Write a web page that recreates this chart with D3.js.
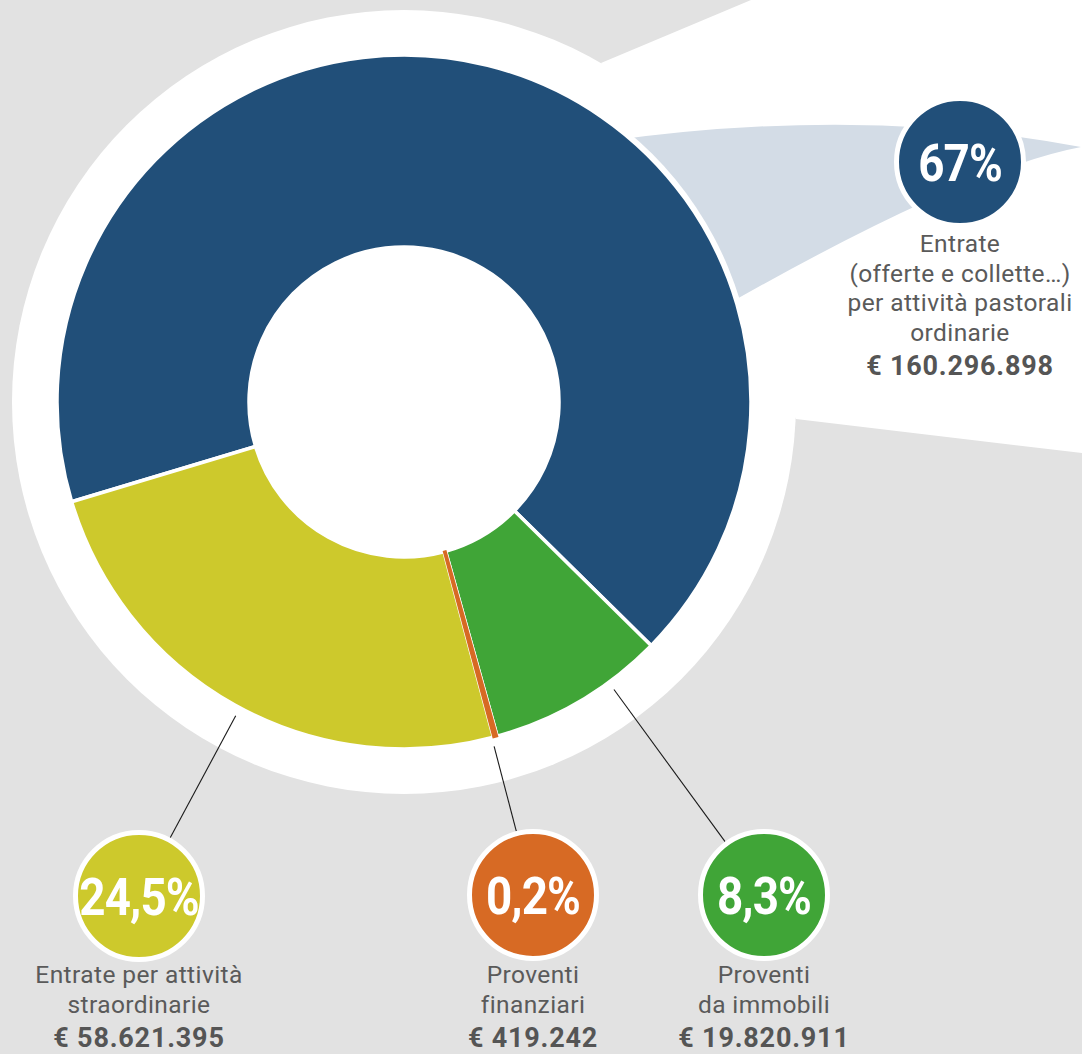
<!DOCTYPE html>
<html>
<head>
<meta charset="utf-8">
<script src="https://cdn.jsdelivr.net/npm/d3@7"></script>
<style>
  html, body { margin: 0; padding: 0; background: #e2e2e2; }
  svg { display: block; }
</style>
</head>
<body>
<div id="chart"></div>
<script>
// dati
const categories = ["ordinarie", "immobili", "finanziari", "straordinarie"];
const values = [160296898, 19820911, 419242, 58621395];
const percentLabels = ["67%", "8,3%", "0,2%", "24,5%"];
const labelLines = [
  ["Entrate", "(offerte e collette…)", "per attività pastorali", "ordinarie"],
  ["Proventi", "da immobili"],
  ["Proventi", "finanziari"],
  ["Entrate per attività", "straordinarie"]
];
const colors = ["#214f79", "#40a537", "#d76a24", "#cdc92c"];

const width = 1082, height = 1054;
const cx = 404, cy = 402;
const outerR = 347, innerR = 155;

// posizione dei cerchi (layout)
const bubbles = {
  ordinarie:     {x: 960, y: 162, line: false, top: 90},
  immobili:      {x: 764, y: 895, line: true, top: 88},
  finanziari:    {x: 533, y: 895, line: true, top: 88},
  straordinarie: {x: 139, y: 896, line: true, top: 87}
};

const it = d3.formatLocale({decimal: ",", thousands: ".", grouping: [3], currency: ["€ ", ""]});
const fmtEuro = it.format("$,.0f");

const sans = "Roboto, 'Open Sans', sans-serif";

const svg = d3.select("#chart").append("svg")
  .attr("width", width)
  .attr("height", height);

svg.append("rect").attr("width", width).attr("height", height).attr("fill", "#e2e2e2");

// fondo bianco: fascio + cerchio
svg.append("path")
  .attr("d", "M601,63 L751,0 L1082,0 L1082,453 L796,419 Z")
  .attr("fill", "#fff");
svg.append("circle").attr("cx", cx).attr("cy", cy).attr("r", 392).attr("fill", "#fff");

// cuneo azzurro verso il 67%
svg.append("path")
  .attr("d", "M600,142 Q860,105 1081,147 Q960,170 700,320 Z")
  .attr("fill", "#d3dce6");
svg.append("circle").attr("cx", cx).attr("cy", cy).attr("r", outerR + 4).attr("fill", "#fff");

const start = -106.7 * Math.PI / 180;
const pie = d3.pie().sort(null).startAngle(start).endAngle(start + 2 * Math.PI);
const arc = d3.arc().innerRadius(innerR).outerRadius(outerR);
const arcs = pie(values);

const g = svg.append("g").attr("transform", "translate(" + cx + "," + cy + ")");

g.selectAll("path.slice")
  .data(arcs)
  .enter().append("path")
  .attr("class", "slice")
  .attr("d", arc)
  .attr("fill", (d, i) => colors[i])
  .attr("stroke", "#fff")
  .attr("stroke-width", 3.5);

// la fetta piccola resta visibile
g.selectAll("path.thin")
  .data(arcs.filter(d => d.endAngle - d.startAngle < 0.02))
  .enter().append("path")
  .attr("class", "thin")
  .attr("d", arc)
  .attr("fill", (d) => colors[d.index])
  .attr("stroke", (d) => colors[d.index])
  .attr("stroke-width", 2.2);

// linee di richiamo
const lineStart = 356, bubbleOuter = 66;
categories.forEach((c, i) => {
  const b = bubbles[c];
  if (!b.line) return;
  const dx = b.x - cx, dy = b.y - cy, len = Math.hypot(dx, dy);
  const ux = dx / len, uy = dy / len;
  svg.append("line")
    .attr("x1", cx + ux * lineStart).attr("y1", cy + uy * lineStart)
    .attr("x2", b.x - ux * bubbleOuter).attr("y2", b.y - uy * bubbleOuter)
    .attr("stroke", "#1a1a1a")
    .attr("stroke-width", 1.1);
});

// cerchi con percentuale
const node = svg.selectAll("g.bubble")
  .data(categories)
  .enter().append("g")
  .attr("class", "bubble")
  .attr("transform", d => "translate(" + bubbles[d].x + "," + bubbles[d].y + ")");

node.append("circle")
  .attr("r", 63.5)
  .attr("fill", (d, i) => colors[i])
  .attr("stroke", "#fff")
  .attr("stroke-width", 5);

node.append("text")
  .attr("text-anchor", "middle")
  .attr("transform", "translate(0,18.5) scale(0.88,1)")
  .attr("font-family", sans)
  .attr("font-weight", "bold")
  .attr("font-size", 52)
  .attr("letter-spacing", -1)
  .attr("fill", "#fff")
  .text((d, i) => percentLabels[i]);

// etichette: un solo testo a piu righe
const lineH = 29.5;
node.each(function(d, i) {
  const lines = labelLines[i];
  const label = d3.select(this).append("text")
    .attr("text-anchor", "middle")
    .attr("y", bubbles[d].top)
    .attr("font-family", sans)
    .attr("font-size", 24.5)
    .attr("letter-spacing", 0.4)
    .attr("fill", "#5a5a5a");
  lines.forEach((t, k) => {
    label.append("tspan")
      .attr("x", 0)
      .attr("dy", k === 0 ? 0 : lineH)
      .text(t);
  });
  label.append("tspan")
    .attr("x", 0)
    .attr("dy", 34.5)
    .attr("font-weight", "bold")
    .attr("font-size", 27)
    .attr("letter-spacing", 0.8)
    .attr("fill", "#555")
    .text(fmtEuro(values[i]));
});
</script>
</body>
</html>
